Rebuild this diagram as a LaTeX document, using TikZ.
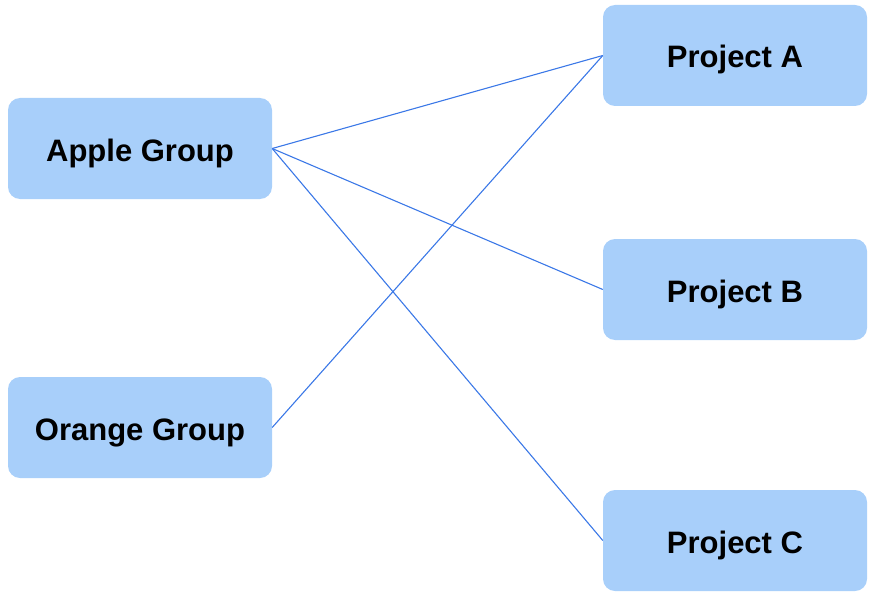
\documentclass[tikz,border=0pt]{standalone}
\usepackage{fontspec}
\setmainfont{Liberation Sans}
\usetikzlibrary{positioning}

\definecolor{boxblue}{HTML}{A8CFFA}
\definecolor{linkblue}{HTML}{3B78E7}

\tikzset{
  groupbox/.style={fill=boxblue,rounded corners=12pt,minimum width=264pt,minimum height=101pt,
    inner sep=0pt,text height=25pt,text depth=0pt,font=\fontsize{31}{34}\selectfont\bfseries},
  link/.style={linkblue,line width=1.1pt}
}

\begin{document}
\begin{tikzpicture}[x=1pt,y=-1pt]
\useasboundingbox (0,0) rectangle (872,599);

% left column
\node[groupbox] (apple) at (140,148.5) {Apple Group};
\node[groupbox] (orange) at (140,427.5) {Orange Group};

% right column
\node[groupbox] (projA) at (735,55.5) {Project A};
\node[groupbox] (projB) at (735,289.5) {Project B};
\node[groupbox] (projC) at (735,540.5) {Project C};

\foreach \target in {projA,projB,projC} {
  \draw[link] (apple.east) -- (\target.west);
}
\draw[link] (orange.east) -- (projA.west);
\end{tikzpicture}
\end{document}
